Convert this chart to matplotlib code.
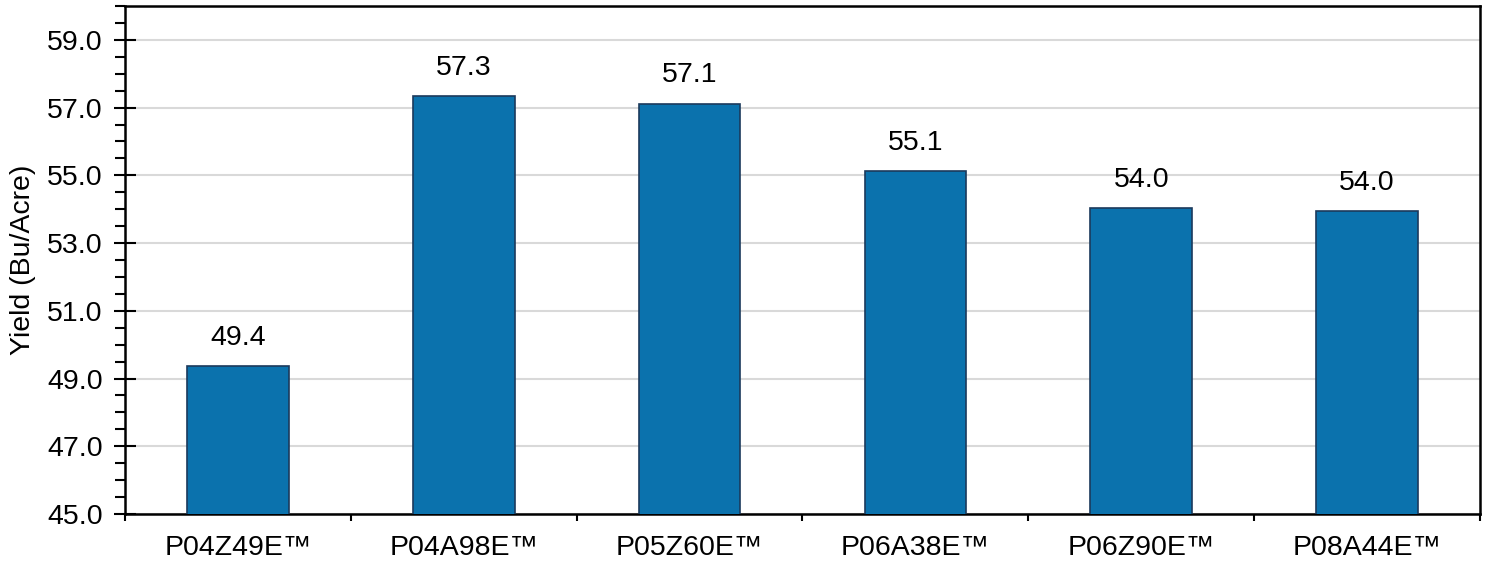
import numpy as np
import matplotlib
matplotlib.use('Agg')
import matplotlib.pyplot as plt
from matplotlib.ticker import MultipleLocator, FixedLocator

plt.rcParams['font.family'] = ['Liberation Sans', 'DejaVu Sans']

# data
hybrids = ['P04Z49E™', 'P04A98E™', 'P05Z60E™', 'P06A38E™', 'P06Z90E™', 'P08A44E™']
yields = [49.37, 57.33, 57.12, 55.12, 54.03, 53.95]
labels = ['49.4', '57.3', '57.1', '55.1', '54.0', '54.0']

fig = plt.figure(figsize=(14.87, 5.63), dpi=100)
ax = fig.add_axes([125 / 1487, 1 - 514 / 563, (1480 - 125) / 1487, (514 - 6) / 563])

x = np.arange(len(hybrids))
ax.bar(x, yields, width=0.45, bottom=0, color='#0b72ad', edgecolor='#1b3a5c',
       linewidth=1.2, zorder=3)
for xi, v, t in zip(x, yields, labels):
    ax.text(xi, v + 0.45, t, ha='center', va='bottom', fontsize=20.5, zorder=4)

ax.set_xlim(-0.5, len(hybrids) - 0.5)
ax.set_ylim(45, 60)
ax.yaxis.set_major_locator(FixedLocator(np.arange(45, 60, 2)))
ax.yaxis.set_minor_locator(MultipleLocator(0.5))
ax.yaxis.set_major_formatter(matplotlib.ticker.FormatStrFormatter('%.1f'))
ax.grid(axis='y', color='#d9d9d9', linewidth=1.5, zorder=0)

ax.set_xticks(x)
ax.set_xticklabels(hybrids)
ax.xaxis.set_minor_locator(FixedLocator(np.arange(-0.5, len(hybrids), 1)))
ax.tick_params(axis='x', which='major', length=0, labelsize=20.5, pad=15)
ax.tick_params(axis='x', which='minor', length=5, width=1.5, direction='out')
ax.tick_params(axis='y', which='major', length=16, width=1.5, direction='inout',
               labelsize=20.5, pad=8)
ax.tick_params(axis='y', which='minor', length=7, width=1.5, direction='out')

for s in ax.spines.values():
    s.set_linewidth(1.8)
    s.set_color('black')

ax.set_ylabel('Yield (Bu/Acre)', fontsize=20.5, labelpad=8)

fig.savefig('out.png', dpi=100)
